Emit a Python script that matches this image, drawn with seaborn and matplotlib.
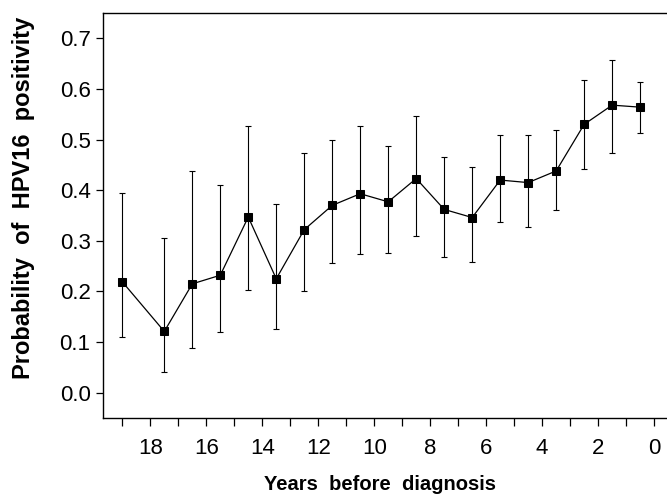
import matplotlib
matplotlib.use("Agg")
import matplotlib.pyplot as plt
import seaborn as sns
import pandas as pd
from matplotlib.ticker import MultipleLocator, FixedLocator

years = [19, 17.5, 16.5, 15.5, 14.5, 13.5, 12.5, 11.5, 10.5, 9.5,
         8.5, 7.5, 6.5, 5.5, 4.5, 3.5, 2.5, 1.5, 0.5]
prob = [0.219, 0.121, 0.215, 0.232, 0.347, 0.225, 0.322, 0.370, 0.393, 0.377,
        0.423, 0.362, 0.346, 0.420, 0.415, 0.438, 0.530, 0.568, 0.564]
upper = [0.395, 0.306, 0.438, 0.411, 0.527, 0.372, 0.473, 0.500, 0.527, 0.488,
         0.547, 0.466, 0.446, 0.509, 0.510, 0.519, 0.617, 0.658, 0.613]
lower = [0.110, 0.040, 0.089, 0.119, 0.203, 0.126, 0.201, 0.256, 0.273, 0.275,
         0.309, 0.269, 0.259, 0.337, 0.327, 0.360, 0.442, 0.473, 0.513]
xtick_labels = [0, 2, 4, 6, 8, 10, 12, 14, 16, 18]
ytick_labels = [0.0, 0.1, 0.2, 0.3, 0.4, 0.5, 0.6, 0.7]

df = pd.DataFrame({"years": years, "prob": prob, "upper": upper, "lower": lower})

sns.set_style("ticks", {"text.color": "black", "axes.labelcolor": "black",
                        "xtick.color": "black", "ytick.color": "black",
                        "axes.edgecolor": "black"})
plt.rcParams['font.family'] = ['Liberation Sans', 'DejaVu Sans']

fig = plt.figure(figsize=(6.67, 5.04), dpi=100)
ax = fig.add_axes([103 / 667, 1 - 418 / 504, 1 - 103 / 667, (418 - 13) / 504])

ax.errorbar(df["years"], df["prob"],
            yerr=[df["prob"] - df["lower"], df["upper"] - df["prob"]],
            fmt="none", ecolor="black", elinewidth=0.8, capsize=2.5, capthick=0.8)
sns.lineplot(data=df, x="years", y="prob", ax=ax, color="black", linewidth=0.9,
             marker="s", markersize=5.5, markeredgecolor="black",
             markerfacecolor="black", estimator=None, sort=False)

ax.set_xlim(19.69, -0.46)
ax.set_ylim(-0.05, 0.75)
ax.xaxis.set_major_locator(FixedLocator(xtick_labels))
ax.set_xticklabels([str(v) for v in xtick_labels])
ax.xaxis.set_minor_locator(MultipleLocator(1))
ax.set_yticks(ytick_labels)
ax.set_yticklabels([f"{v:.1f}" for v in ytick_labels])

ax.tick_params(axis="x", which="both", direction="out", length=6, width=0.9,
               pad=8.5, labelsize=16, color="black", labelcolor="black")
ax.tick_params(axis="y", which="major", direction="out", length=5, width=0.9,
               pad=4, labelsize=16, color="black", labelcolor="black")

for s in ["left", "bottom", "top"]:
    ax.spines[s].set_linewidth(1.0)
    ax.spines[s].set_color("black")
ax.spines["right"].set_visible(False)

ax.set_xlabel("Years  before  diagnosis", fontsize=14.5, fontweight="bold", color="black")
ax.xaxis.set_label_coords(0.491, -0.14)
ax.set_ylabel("Probability  of  HPV16  positivity", fontsize=17, fontweight="bold", color="black")
ax.yaxis.set_label_coords(-0.121, 0.543)

fig.savefig("out.png", dpi=100)
